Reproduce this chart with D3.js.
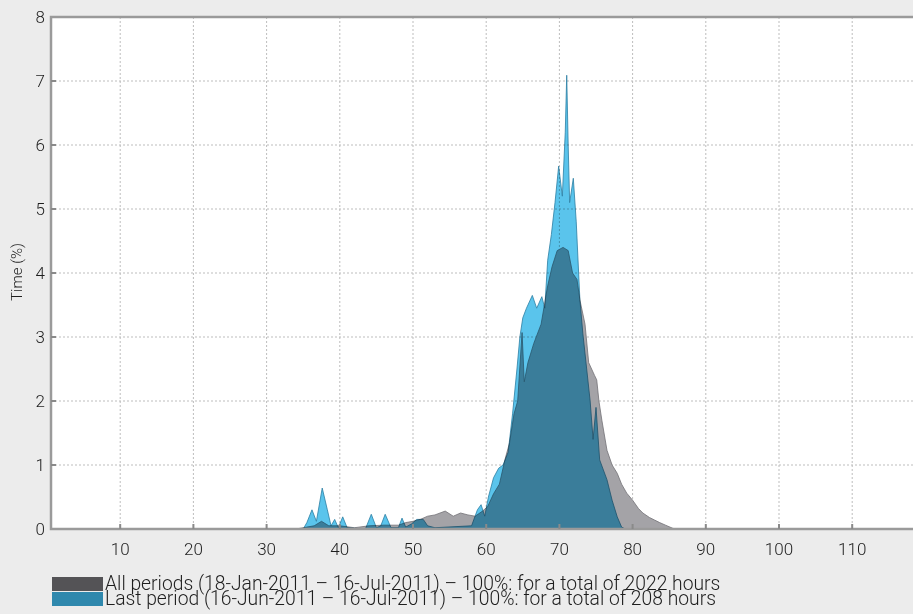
<!DOCTYPE html>
<meta charset="utf-8">
<style>
body { margin: 0; background: #ececec; }
text { font-family: Roboto, "Liberation Sans", sans-serif; fill: #1e1e1e; font-weight: 300; }
</style>
<svg width="913" height="614"></svg>
<script src="https://d3js.org/d3.v7.min.js"></script>
<script>
var svg = d3.select("svg"),
    width = +svg.attr("width"),
    height = +svg.attr("height");

// data (x = value, y = time %)
var allPeriodsX = [34, 35.5, 36.5, 37.5, 38.5, 40, 42, 44, 46, 48, 49, 50, 51, 52, 53, 54.4, 55.5, 56.5, 57.5, 58.5, 59.5, 60.2,
  61, 61.8, 62.6, 63.2, 63.8, 64.3, 64.9, 65.2, 65.7, 66.5, 67.5, 68.4, 69, 69.7, 70.5, 71.2, 71.8, 72.4, 72.8, 73.5, 74,
  74.8, 75.1, 75.4, 75.8, 76.5, 77.2, 77.9, 78.5, 79.2, 80, 80.8, 81.4, 82.3, 83, 83.7, 84.5, 85.5, 86];
var allPeriodsY = [0, 0.03, 0.05, 0.12, 0.05, 0.05, 0.02, 0.05, 0.06, 0.06, 0.1, 0.12, 0.15, 0.2, 0.22, 0.28, 0.2, 0.25, 0.22, 0.2, 0.28, 0.35,
  0.55, 0.7, 1.1, 1.35, 1.8, 2.0, 3.07, 2.3, 2.6, 2.9, 3.2, 3.8, 4.1, 4.35, 4.4, 4.35, 4.0, 3.9, 3.58, 3.2, 2.6,
  2.4, 2.33, 2.0, 1.7, 1.23, 1.0, 0.87, 0.7, 0.56, 0.45, 0.32, 0.25, 0.18, 0.14, 0.1, 0.06, 0.01, 0];

var lastPeriodX = [35, 35.5, 36.2, 36.8, 37.6, 38.3, 38.8, 39.3, 39.8, 40.4, 41, 43.5, 44.3, 45, 45.6, 46.2, 47, 48, 48.5, 49,
  49.8, 50.5, 51.4, 52, 53, 58, 58.8, 59.3, 59.8, 60.3, 61, 61.7, 62.3, 63, 63.6, 64.2, 64.6, 65, 65.5, 66.3, 66.9, 67.6,
  68, 68.4, 68.9, 69.4, 69.9, 70.4, 70.8, 71, 71.2, 71.4, 71.9, 72.3, 72.8, 73.2, 74.2, 74.6, 75, 75.5, 76.5, 77.2, 77.9, 78.5, 79];
var lastPeriodY = [0, 0.1, 0.3, 0.12, 0.64, 0.3, 0.05, 0.15, 0.02, 0.19, 0.02, 0, 0.23, 0.02, 0.05, 0.23, 0.02, 0.02, 0.17, 0.03,
  0.08, 0.15, 0.15, 0.05, 0.02, 0.05, 0.3, 0.38, 0.2, 0.5, 0.8, 0.95, 1.0, 1.2, 1.8, 2.5, 3.0, 3.3, 3.45, 3.65, 3.45, 3.63,
  3.45, 4.2, 4.6, 5.1, 5.67, 5.2, 6.2, 7.09, 6.0, 5.1, 5.48, 4.8, 3.58, 3.06, 2.0, 1.4, 1.9, 1.08, 0.77, 0.45, 0.19, 0.03, 0];

var xTicks = [10, 20, 30, 40, 50, 60, 70, 80, 90, 100, 110];
var yTicks = [0, 1, 2, 3, 4, 5, 6, 7, 8];
var legendLabels = [
  "All periods (18-Jan-2011 \u2013 16-Jul-2011) \u2013 100%: for a total of 2022 hours",
  "Last period (16-Jun-2011 \u2013 16-Jul-2011) \u2013 100%: for a total of 208 hours"
];

// plot box (window.top is reserved, so use other names)
var plotLeft = 51, plotTop = 17, plotBottom = 529;

var x = d3.scaleLinear().domain([0, 120]).range([47, 925.4]);
var y = d3.scaleLinear().domain([0, 8]).range([plotBottom, plotTop]);

// plot background
svg.append("rect")
    .attr("x", plotLeft).attr("y", plotTop)
    .attr("width", width - plotLeft).attr("height", plotBottom - plotTop)
    .attr("fill", "#fff");

// dotted grid
var grid = svg.append("g").attr("stroke", "#bdbdbd").attr("stroke-dasharray", "2,2").attr("stroke-width", 1);
grid.selectAll(".gx").data(xTicks).enter().append("line")
    .attr("x1", function(d) { return x(d); }).attr("x2", function(d) { return x(d); })
    .attr("y1", plotTop).attr("y2", plotBottom);
grid.selectAll(".gy").data(yTicks.slice(1, -1)).enter().append("line")
    .attr("x1", plotLeft).attr("x2", width)
    .attr("y1", function(d) { return y(d); }).attr("y2", function(d) { return y(d); });

// areas
var area = d3.area().x(function(d) { return x(d[0]); }).y0(y(0)).y1(function(d) { return y(d[1]); });
var allData = d3.zip(allPeriodsX, allPeriodsY);
var lastData = d3.zip(lastPeriodX, lastPeriodY);

svg.append("path").datum(allData)
    .attr("d", area)
    .attr("fill", "#a4a3a7")
    .attr("stroke", "#727176")
    .attr("stroke-width", 0.8);

svg.append("path").datum(lastData)
    .attr("d", area)
    .attr("fill", "#5ac4ec")
    .attr("stroke", "#2c7fa3")
    .attr("stroke-width", 0.8)
    .style("mix-blend-mode", "multiply");

// axes frame
var frame = svg.append("g").attr("stroke", "#9a9a9a").attr("stroke-width", 2.5).attr("fill", "none");
frame.append("path").attr("d", "M" + width + "," + plotTop + "H" + plotLeft + "V" + plotBottom + "H" + width);

// small tick stubs
var ticks = svg.append("g").attr("stroke", "#8a8a8a").attr("stroke-width", 2);
ticks.selectAll(".ty").data(yTicks.slice(1, -1)).enter().append("line")
    .attr("x1", plotLeft).attr("x2", plotLeft + 5)
    .attr("y1", function(d) { return y(d); }).attr("y2", function(d) { return y(d); });
ticks.selectAll(".tx").data(xTicks).enter().append("line")
    .attr("x1", function(d) { return x(d); }).attr("x2", function(d) { return x(d); })
    .attr("y1", plotBottom).attr("y2", plotBottom - 5);

// tick labels
svg.append("g").selectAll("text").data(yTicks).enter().append("text")
    .attr("x", 45).attr("y", function(d) { return y(d) + 6; })
    .attr("text-anchor", "end")
    .style("font-size", "17px")
    .text(function(d) { return d; });

svg.append("g").selectAll("text").data(xTicks).enter().append("text")
    .attr("x", function(d) { return x(d); }).attr("y", 555)
    .attr("text-anchor", "middle")
    .style("font-size", "17px")
    .text(function(d) { return d; });

svg.append("text")
    .attr("transform", "translate(22,272) rotate(-90)")
    .attr("text-anchor", "middle")
    .style("font-size", "15px")
    .text("Time (%)");

// legend
var legendColors = ["#545356", "#2f88ad"];
var legend = svg.append("g").selectAll("g").data(legendLabels).enter().append("g")
    .attr("transform", function(d, i) { return "translate(52," + (577 + i * 15) + ")"; });
legend.append("rect").attr("width", 51).attr("height", 14)
    .attr("fill", function(d, i) { return legendColors[i]; });
legend.append("text").attr("x", 53).attr("y", 12.5)
    .style("font-size", "19.3px")
    .text(function(d) { return d; });
</script>
